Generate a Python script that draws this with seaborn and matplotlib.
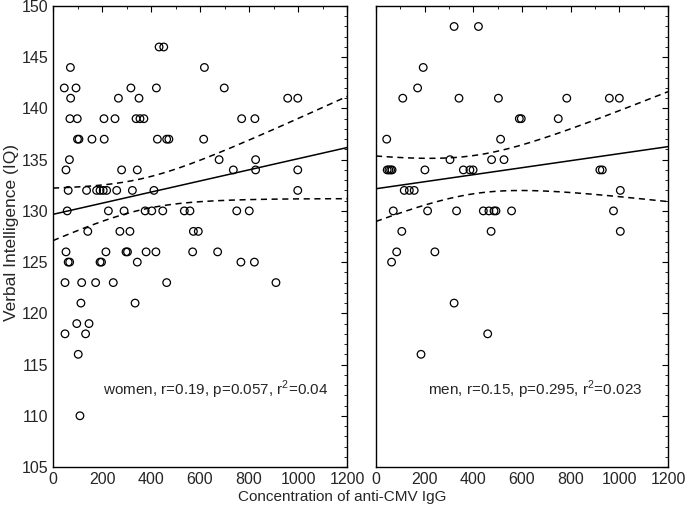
import numpy as np
import pandas as pd
import matplotlib
matplotlib.use("Agg")
import matplotlib.pyplot as plt
import seaborn as sns
from matplotlib.ticker import MultipleLocator

# values (x = anti-CMV IgG, y = verbal IQ)
women_x = [433, 452,
           71, 618,
           46, 94, 318, 422, 699,
           72, 267, 351, 958, 999,
           69, 99, 208, 253, 339, 355, 371, 770, 824,
           100, 106, 159, 209, 426, 464, 473, 615,
           67, 678, 827,
           53, 280, 344, 736, 827, 999,
           62, 137, 178, 192, 205, 219, 260, 324, 412, 999,
           58, 226, 290, 376, 403, 448, 536, 559, 750, 801,
           142, 273, 314, 573, 593,
           53, 216, 298, 304, 380, 420, 570, 672,
           62, 68, 192, 198, 344, 767, 822,
           49, 117, 174, 246, 464, 910,
           114, 335,
           97, 147,
           49, 133,
           103,
           110]
women_y = ([146] * 2 + [144] * 2 + [142] * 5 + [141] * 5 + [139] * 9 +
           [137] * 8 + [135] * 3 + [134] * 6 + [132] * 10 + [130] * 10 +
           [128] * 5 + [126] * 8 + [125] * 7 + [123] * 6 + [121] * 2 +
           [119] * 2 + [118] * 2 + [116] + [110])

men_x = [321, 421,
         194,
         171,
         110, 341, 503, 784, 959, 1000,
         589, 597, 749,
         44, 512,
         304, 475, 526,
         46, 53, 60, 66, 201, 359, 386, 399, 920, 930,
         116, 137, 157, 1004,
         71, 212, 331, 441, 464, 485, 493, 557, 976,
         106, 473, 1004,
         85, 242,
         64,
         321,
         459,
         185]
men_y = ([148] * 2 + [144] + [142] + [141] * 6 + [139] * 3 + [137] * 2 +
         [135] * 3 + [134] * 10 + [132] * 4 + [130] * 9 + [128] * 3 +
         [126] * 2 + [125] + [121] + [118] + [116])

women_label = "women, r=0.19, p=0.057, r$^2$=0.04"
men_label = "men, r=0.15, p=0.295, r$^2$=0.023"

sns.set_style("white")
plt.rcParams['font.family'] = ['Liberation Sans', 'DejaVu Sans']
plt.rcParams['mathtext.fontset'] = 'custom'
plt.rcParams['mathtext.rm'] = 'Liberation Sans'

fig = plt.figure(figsize=(6.85, 5.11), dpi=100)
ax1 = fig.add_axes([53 / 685, 44 / 511, 294 / 685, 461 / 511])
ax2 = fig.add_axes([376 / 685, 44 / 511, 292 / 685, 461 / 511])


def draw_panel(ax, xs, ys, label, tx, ty):
    df = pd.DataFrame({'x': xs, 'y': ys})
    sns.scatterplot(data=df, x='x', y='y', ax=ax, marker='o', s=30,
                    facecolor='none', edgecolor='black', linewidth=0.9)
    # least squares fit with 95% confidence band for the mean
    x = np.asarray(xs, float)
    y = np.asarray(ys, float)
    n = len(x)
    b, a = np.polyfit(x, y, 1)
    grid = np.linspace(0, 1200, 200)
    fit = a + b * grid
    resid = y - (a + b * x)
    s = np.sqrt(np.sum(resid ** 2) / (n - 2))
    se = s * np.sqrt(1 / n + (grid - x.mean()) ** 2 / np.sum((x - x.mean()) ** 2))
    t = 1.986
    ax.plot(grid, fit, color='black', lw=1.1)
    ax.plot(grid, fit + t * se, color='black', lw=1.1, ls=(0, (4, 3)))
    ax.plot(grid, fit - t * se, color='black', lw=1.1, ls=(0, (4, 3)))
    ax.text(tx, ty, label, fontsize=11)
    ax.set_xlim(0, 1200)
    ax.set_ylim(105, 150)
    ax.xaxis.set_major_locator(MultipleLocator(200))
    ax.xaxis.set_minor_locator(MultipleLocator(100))
    ax.yaxis.set_major_locator(MultipleLocator(5))
    ax.yaxis.set_minor_locator(MultipleLocator(1))
    ax.tick_params(which='both', direction='in', top=True, right=True,
                   labelsize=11.5, color='black')
    ax.tick_params(which='major', length=4, width=0.8)
    ax.tick_params(which='minor', length=2.5, width=0.6)
    ax.set_xlabel('')
    ax.set_ylabel('')
    for sp in ax.spines.values():
        sp.set_color('black')
        sp.set_linewidth(1.0)


draw_panel(ax1, women_x, women_y, women_label, 204, 112)
draw_panel(ax2, men_x, men_y, men_label, 214, 112)
ax2.set_yticklabels([])

fig.text(12 / 685, 0.545, 'Verbal Intelligence (IQ)', rotation=90,
         va='center', ha='center', fontsize=12.5)
fig.text(0.5, 14 / 511, 'Concentration of anti-CMV IgG', ha='center',
         va='center', fontsize=11)

fig.savefig('out.png', dpi=100)
